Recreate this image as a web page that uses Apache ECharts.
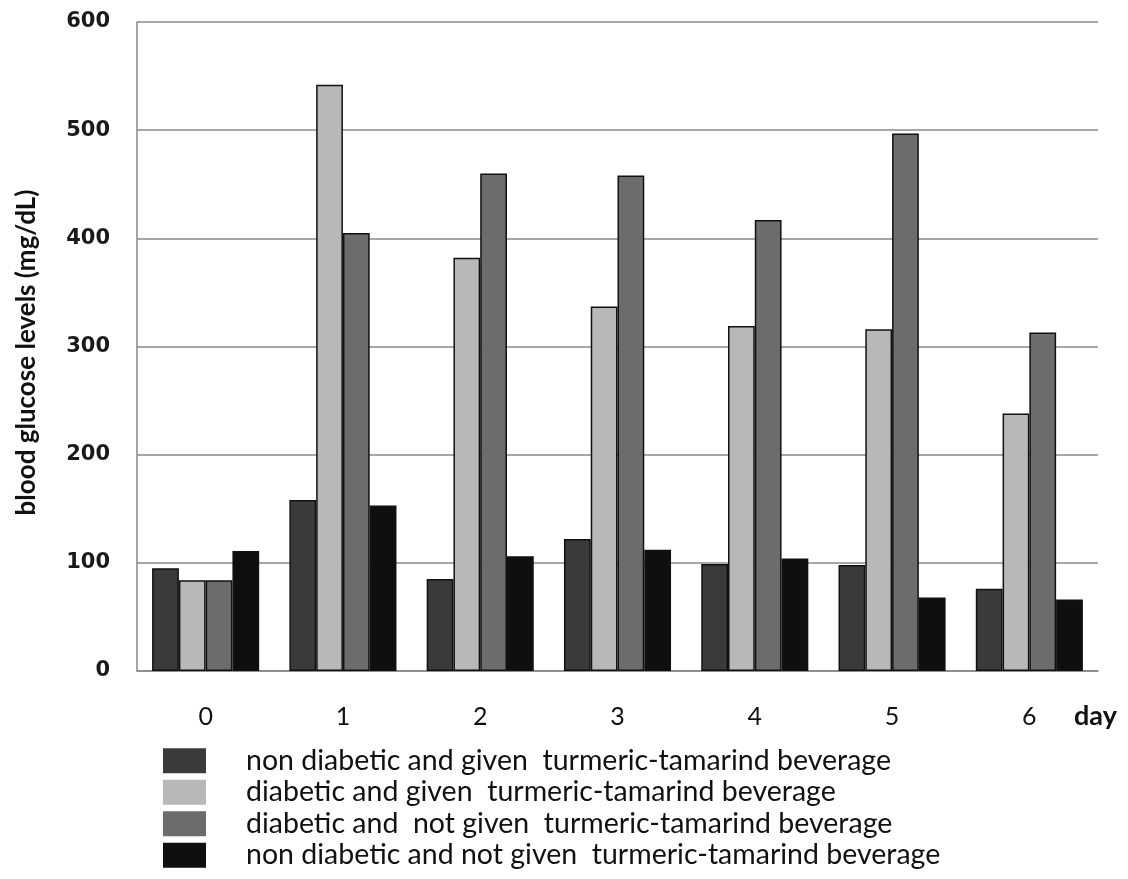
<!DOCTYPE html>
<html>
<head>
<meta charset="utf-8">
<script src="https://cdn.jsdelivr.net/npm/echarts@6/dist/echarts.min.js"></script>
<style>html,body{margin:0;padding:0;background:#fff;}#c{width:1128px;height:879px;}</style>
</head>
<body>
<div id="c"></div>
<script>
const days = ['0', '1', '2', '3', '4', '5', '6'];
const xAxisTitle = 'day';
const yAxisTitle = 'blood glucose levels (mg/dL)';
const seriesNames = [
  'non diabetic and given  turmeric-tamarind beverage',
  'diabetic and given  turmeric-tamarind beverage',
  'diabetic and  not given  turmeric-tamarind beverage',
  'non diabetic and not given  turmeric-tamarind beverage'
];
const nonDiabeticGiven = [95, 158, 85, 122, 99, 98, 76];
const diabeticGiven = [84, 542, 382, 337, 319, 316, 238];
const diabeticNotGiven = [84, 405, 460, 458, 417, 497, 313];
const nonDiabeticNotGiven = [111, 153, 106, 112, 104, 68, 66];
const yTicks = [0, 100, 200, 300, 400, 500, 600];

const colors = ['#3a3a3a', '#b8b8b8', '#6c6c6c', '#0f0f0f'];
const dataSets = [nonDiabeticGiven, diabeticGiven, diabeticNotGiven, nonDiabeticNotGiven];

const chart = echarts.init(document.getElementById('c'));
chart.setOption({
  animation: false,
  backgroundColor: '#fff',
  grid: { left: 137, right: 30, top: 22, bottom: 208, containLabel: false },
  legend: {
    orient: 'vertical',
    left: 163,
    top: 745,
    padding: 0,
    icon: 'rect',
    itemWidth: 43,
    itemHeight: 25,
    itemGap: 0,
    itemStyle: { borderWidth: 0 },
    selectedMode: false,
    textStyle: { fontFamily: 'Lato', fontSize: 28.5, color: '#111', padding: [0, 0, 0, 35], lineHeight: 31.5 },
    data: seriesNames
  },
  graphic: [{
    type: 'text',
    left: 1074,
    top: 703,
    style: { text: xAxisTitle, fontFamily: 'Lato', fontWeight: 'bold', fontSize: 27, fill: '#111' }
  }],
  xAxis: {
    type: 'category',
    data: days,
    axisLine: { show: true, lineStyle: { color: '#888', width: 1.5 } },
    axisTick: { show: false },
    axisLabel: { fontFamily: 'Lato', fontSize: 25, color: '#111', margin: 33 },
    splitLine: { show: false }
  },
  yAxis: {
    type: 'value',
    min: yTicks[0],
    max: yTicks[yTicks.length - 1],
    interval: 100,
    name: yAxisTitle,
    nameLocation: 'middle',
    nameGap: 97,
    nameTextStyle: { fontFamily: 'Lato', fontWeight: 'bold', fontSize: 26, color: '#111', padding: [0, 12, 0, 0] },
    axisLine: { show: true, lineStyle: { color: '#888', width: 1.5 } },
    axisTick: { show: false },
    axisLabel: { fontFamily: 'DejaVu Sans', fontWeight: 'bold', fontSize: 21, color: '#1a1a1a', margin: 27 },
    splitLine: { show: true, lineStyle: { color: '#8a8a8a', width: 1.5 } }
  },
  series: dataSets.map((d, i) => ({
    name: seriesNames[i],
    type: 'bar',
    data: d,
    barGap: '0%',
    barCategoryGap: '22%',
    itemStyle: { color: colors[i], borderColor: '#111', borderWidth: 1.5 }
  }))
});
</script>
</body>
</html>
